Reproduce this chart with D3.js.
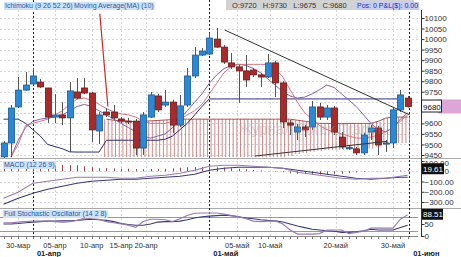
<!DOCTYPE html>
<html>
<head>
<meta charset="utf-8">
<script src="https://cdn.jsdelivr.net/npm/d3@7"></script>
<style>
  body { margin: 0; background: #fff; }
  svg { display: block; font-family: "Liberation Sans", Arial, sans-serif; }
</style>
</head>
<body>
<div id="chart-container"></div>
<script>
// candles: open, high, low, close
var opens  = [9441,9507,9678,9758,9787,9796,9768,9630,9640,9626,9749,9768,9744,9564,9654,9654,9621,9611,9611,9483,9630,9730,9687,9701,9592,9687,9825,9924,9929,10000,9962,9887,9868,9849,9853,9830,9820,9887,9792,9602,9559,9583,9583,9678,9630,9673,9535,9483,9479,9460,9559,9578,9502,9507,9664,9720];
var highs  = [9516,9687,9820,9844,9863,9811,9768,9739,9701,9796,9815,9815,9749,9654,9673,9687,9630,9626,9621,9654,9749,9740,9758,9712,9735,9863,9962,9958,10029,10053,9972,9934,9878,9924,9863,9840,9929,9897,9800,9616,9597,9593,9706,9697,9687,9683,9559,9497,9488,9555,9593,9588,9521,9673,9758,9730];
var lows   = [9436,9440,9673,9754,9782,9768,9602,9602,9592,9464,9716,9739,9512,9502,9630,9616,9602,9597,9450,9450,9626,9654,9678,9554,9583,9678,9815,9919,9924,9958,9882,9858,9697,9773,9820,9773,9815,9725,9578,9545,9521,9535,9569,9616,9616,9545,9479,9474,9450,9450,9521,9450,9464,9483,9654,9675];
var closes = [9507,9673,9758,9782,9825,9773,9630,9640,9626,9754,9720,9744,9569,9640,9640,9626,9611,9607,9483,9640,9735,9664,9701,9592,9683,9825,9924,9943,10005,9962,9891,9868,9849,9806,9830,9820,9887,9792,9607,9592,9583,9569,9678,9630,9673,9559,9488,9485,9460,9545,9578,9498,9507,9664,9735,9680];

// indicator lines (price), null = not drawn
var tenkan = [null,9440,9520,9580,9610,9620,9625,9630,9640,9660,9680,9690,9680,9660,9640,9620,9600,9580,9560,9540,9530,9540,9550,9580,9620,9660,9700,9740,9790,9830,9860,9875,9880,9875,9860,9840,9810,9780,9750,9730,9720,9725,9740,9760,9782,9770,9740,9710,9680,9640,9600,9570,9560,9580,9620,9650];
var kijun  = [9620,9620,9620,9600,9570,9540,9500,9490,9480,9465,9464,9464,9464,9464,9520,9520,9520,9520,9520,9520,9520,9520,9525,9540,9570,9600,9640,9680,9716,9716,9716,9716,9716,9716,9716,9716,9716,9716,9716,9716,9716,9716,9716,9716,9716,9716,9716,9716,9716,9716,9716,9716,9716,9716,9716,null];
var ma10   = [null,9440,9500,9590,9600,9610,9620,9640,9660,9690,9715,9720,9710,9690,9670,9655,9645,9640,9630,9610,9600,9600,9600,9610,9620,9640,9660,9690,9740,9790,9840,9870,9880,9880,9880,9880,9880,9860,9820,9760,9700,9650,9620,9590,9570,9560,9550,9540,9530,9530,9535,9545,9560,9580,9610,9640];
var spanA  = [null,null,null,null,null,null,null,null,null,null,null,null,null,null,9620,9615,9612,9610,9608,9610,9612,9614,9616,9618,9620,9620,9620,9620,9620,9620,9620,9620,9620,9620,9620,9620,9620,9620,9620,9620,9615,9610,9605,9600,9600,9600,9600,9600,9600,9600,9600,9610,9625,9630,9630,9630];
var spanB  = [null,null,null,null,null,null,null,null,null,null,null,null,null,null,9440,9440,9440,9440,9440,9440,9440,9440,9440,9440,9440,9440,9440,9440,9440,9440,9440,9440,9440,9440,9440,9440,9440,9440,9440,9445,9455,9460,9465,9470,9474,9474,9474,9474,9474,9474,9480,9490,9500,9507,9507,9507];

// MACD panel
var macdLine = [-263,-234,-205,-160,-117,-107,-98,-88,-78,-68,-59,-59,-59,-59,-59,-64,-68,-68,-68,-59,-49,-44,-39,-29,-20,-5,10,30,49,54,59,59,59,54,49,44,39,34,29,10,-10,-20,-29,-39,-49,-59,-68,-73,-78,-73,-68,-68,-68,-59,-49,-39];
var macdSignal = [-322,-292,-263,-239,-215,-195,-176,-161,-146,-132,-117,-107,-98,-93,-88,-83,-78,-78,-78,-73,-68,-64,-59,-54,-49,-39,-29,-10,10,20,29,34,39,39,39,39,39,34,29,20,10,0,-10,-20,-29,-39,-49,-59,-68,-73,-78,-73,-68,-64,-59,-59];
var macdHist = [60,60,58,56,62,62,60,60,62,60,58,48,40,30,30,28,25,25,22,20,22,22,24,28,35,38,40,40,40,38,35,30,25,20,12,8,0,-5,-10,-20,-25,-28,-30,-32,-30,-28,-25,-18,-12,-6,-2,2,4,6,8,10];

// Full stochastic panel
var stochK = [55,55,58,60,62,62,62,60,58,60,65,75,72,70,60,55,50,45,36,60,70,70,68,60,72,85,95,96,96,96,92,85,80,72,62,60,62,63,50,25,8,8,8,10,25,25,25,10,15,20,33,33,33,33,70,88];
var stochD = [50,50,52,55,58,60,62,62,63,63,65,68,70,68,65,60,52,48,45,45,50,58,60,60,62,68,75,80,83,85,87,85,80,75,72,68,65,63,58,50,42,35,28,25,22,20,15,15,18,22,28,25,25,25,35,45];

var priceTicks = [10100,10050,10000,9950,9900,9850,9800,9750,9600,9550,9500,9450];
var macdTicks = [100,0,-100,-200,-300];
var stochTicks = [50,0];
var dayTicks = [{i:2,t:"30-мар"},{i:7,t:"05-апр"},{i:12,t:"10-апр"},{i:16,t:"15-апр"},{i:19.4,t:"20-апр"},{i:31.8,t:"05-май"},{i:36.3,t:"10-май"},{i:45.2,t:"20-май"},{i:53,t:"30-май"}];
var monthTicks = [{i:4,t:"01-апр"},{i:28,t:"01-май"},{i:55.2,t:"01-июн"}];
var ohlcText = "O:9720   H:9730   L:9675   C:9680";
var lastPrice = 9680, lastMacd = "19.61", lastStoch = "88.51";

var svgWidth = 461, svgHeight = 257;
var plotRight = 418, axisX = 421;
var svg = d3.select('#chart-container').append('svg')
    .attr('width', svgWidth).attr('height', svgHeight);

var x = d3.scaleLinear().domain([-0.48, 56.4]).range([0, plotRight]);
var yP = d3.scaleLinear().domain([9450, 10100]).range([155, 18]);
var yM = d3.scaleLinear().domain([-300, 100]).range([202, 161]);
var yS = d3.scaleLinear().domain([0, 100]).range([236, 212]);

var idx = d3.range(closes.length);

// clip paths for panels
var defs = svg.append("defs");
defs.append("clipPath").attr("id", "clipMain").append("rect").attr("x", 0).attr("y", 10).attr("width", plotRight).attr("height", 148);
defs.append("clipPath").attr("id", "clipMacd").append("rect").attr("x", 0).attr("y", 159).attr("width", plotRight).attr("height", 49);
defs.append("clipPath").attr("id", "clipStoch").append("rect").attr("x", 0).attr("y", 209).attr("width", plotRight).attr("height", 28);

// grid
var grid = svg.append("g").attr("stroke", "#d8d8d8").attr("stroke-dasharray", "2,2").attr("stroke-width", 1);
d3.range(9450, 10101, 50).forEach(function(v) {
    grid.append("line").attr("x1", 0).attr("x2", plotRight).attr("y1", Math.round(yP(v)) + 0.5).attr("y2", Math.round(yP(v)) + 0.5);
});
dayTicks.forEach(function(d) {
    grid.append("line").attr("x1", Math.round(x(d.i)) + 0.5).attr("x2", Math.round(x(d.i)) + 0.5).attr("y1", 10).attr("y2", 236);
});
[100, 0, -100, -200, -300].forEach(function(v) {
    grid.append("line").attr("x1", 0).attr("x2", plotRight).attr("y1", Math.round(yM(v)) + 0.5).attr("y2", Math.round(yM(v)) + 0.5);
});
[80, 20].forEach(function(v) {
    svg.append("line").attr("x1", 0).attr("x2", plotRight).attr("y1", Math.round(yS(v)) + 0.5).attr("y2", Math.round(yS(v)) + 0.5)
        .attr("stroke", "#999").attr("stroke-width", 1);
});

// panel separators
[158, 208].forEach(function(yy) {
    svg.append("line").attr("x1", 0).attr("x2", svgWidth).attr("y1", yy + 0.5).attr("y2", yy + 0.5).attr("stroke", "#aaa");
});
svg.append("line").attr("x1", 0).attr("x2", plotRight).attr("y1", 236.5).attr("y2", 236.5).attr("stroke", "#888");

// month dotted lines
monthTicks.forEach(function(d) {
    svg.append("line").attr("x1", Math.round(x(d.i)) + 0.5).attr("x2", Math.round(x(d.i)) + 0.5)
        .attr("y1", 0).attr("y2", 237).attr("stroke", "#222").attr("stroke-dasharray", "2,2");
});

// main panel
var main = svg.append("g").attr("clip-path", "url(#clipMain)");

// kumo cloud hatch
idx.forEach(function(i) {
    if (spanA[i] == null) return;
    [-1.8, 1.8].forEach(function(off) {
        main.append("line")
            .attr("x1", x(i) + off).attr("x2", x(i) + off)
            .attr("y1", yP(spanA[i])).attr("y2", yP(spanB[i]))
            .attr("stroke", "#c06262").attr("stroke-width", 1).attr("opacity", 0.75);
    });
});

function lineOf(arr, sc) {
    return d3.line().defined(function(i) { return arr[i] != null; })
        .x(function(i) { return x(i); }).y(function(i) { return sc(arr[i]); })(idx);
}
main.append("path").attr("d", lineOf(spanA, yP)).attr("fill", "none").attr("stroke", "#b05050").attr("stroke-width", 1);
main.append("path").attr("d", lineOf(kijun, yP)).attr("fill", "none").attr("stroke", "#2d2d7a").attr("stroke-width", 1);
main.append("path").attr("d", lineOf(tenkan, yP)).attr("fill", "none").attr("stroke", "#8262aa").attr("stroke-width", 1);
main.append("path").attr("d", lineOf(ma10, yP)).attr("fill", "none").attr("stroke", "#d87482").attr("stroke-width", 1);

// candles
var bw = 6;
main.selectAll(".wick").data(idx).enter().append("line")
    .attr("x1", function(i) { return Math.round(x(i)) + 0.5; })
    .attr("x2", function(i) { return Math.round(x(i)) + 0.5; })
    .attr("y1", function(i) { return yP(highs[i]); })
    .attr("y2", function(i) { return yP(lows[i]); })
    .attr("stroke", "#555");
main.selectAll(".body").data(idx).enter().append("rect")
    .attr("x", function(i) { return Math.round(x(i)) - bw / 2 + 0.5; })
    .attr("y", function(i) { return yP(Math.max(opens[i], closes[i])); })
    .attr("width", bw)
    .attr("height", function(i) { return Math.max(1, Math.abs(yP(opens[i]) - yP(closes[i]))); })
    .attr("fill", function(i) { return closes[i] >= opens[i] ? "#2a88d6" : "#a82a2a"; })
    .attr("stroke", function(i) { return closes[i] >= opens[i] ? "#1a5a96" : "#6e1a1a"; })
    .attr("stroke-width", 0.8);

// drawn trend lines
main.append("line").attr("x1", x(30.1)).attr("y1", yP(10043)).attr("x2", x(55.3)).attr("y2", yP(9640))
    .attr("stroke", "#333").attr("stroke-width", 1);
main.append("line").attr("x1", x(34.2)).attr("y1", yP(9445)).attr("x2", x(52.2)).attr("y2", yP(9515))
    .attr("stroke", "#333").attr("stroke-width", 1);
main.append("line").attr("x1", x(13.1)).attr("y1", yP(10120)).attr("x2", x(14.2)).attr("y2", yP(9680))
    .attr("stroke", "#d02828").attr("stroke-width", 1.2);

// watermark
svg.append("text").attr("x", 238).attr("y", 134).text("Журнал Forex Trader")
    .attr("font-size", 15).attr("fill", "#999").attr("opacity", 0.35);

// MACD panel
var mg = svg.append("g").attr("clip-path", "url(#clipMacd)");
mg.selectAll(".hist").data(idx).enter().append("line")
    .attr("x1", function(i) { return Math.round(x(i)) + 0.5; })
    .attr("x2", function(i) { return Math.round(x(i)) + 0.5; })
    .attr("y1", yM(0))
    .attr("y2", function(i) { return yM(macdHist[i]); })
    .attr("stroke", "#a04848");
mg.append("path").attr("d", lineOf(macdSignal, yM)).attr("fill", "none").attr("stroke", "#3a3a7a").attr("stroke-width", 1.1);
mg.append("path").attr("d", lineOf(macdLine, yM)).attr("fill", "none").attr("stroke", "#9a7ab0").attr("stroke-width", 1.1);

// stochastic panel
var sg = svg.append("g").attr("clip-path", "url(#clipStoch)");
sg.append("path").attr("d", lineOf(stochD, yS)).attr("fill", "none").attr("stroke", "#3a3a7a").attr("stroke-width", 1.1);
sg.append("path").attr("d", lineOf(stochK, yS)).attr("fill", "none").attr("stroke", "#9a7ab0").attr("stroke-width", 1.1);

// right axis
svg.append("line").attr("x1", axisX + 0.5).attr("x2", axisX + 0.5).attr("y1", 10).attr("y2", 237).attr("stroke", "#333");
var axP = svg.append("g").attr("transform", "translate(" + (axisX + 0.5) + ",0)")
    .call(d3.axisRight(yP).tickValues(priceTicks).tickSize(3).tickFormat(d3.format("d")));
var axM = svg.append("g").attr("transform", "translate(" + (axisX + 0.5) + ",0)")
    .call(d3.axisRight(yM).tickValues(macdTicks).tickSize(3).tickFormat(function(d) { return d === 0 ? "0" : d3.format(".2f")(d); }));
var axS = svg.append("g").attr("transform", "translate(" + (axisX + 0.5) + ",0)")
    .call(d3.axisRight(yS).tickValues(stochTicks).tickSize(3));
[axP, axM, axS].forEach(function(a) {
    a.select(".domain").remove();
    a.selectAll("text").attr("font-size", 8).attr("fill", "#333").attr("font-family", "Liberation Sans, Arial").attr("x", 3);
    a.selectAll("line").attr("stroke", "#333");
});
axM.selectAll(".tick").filter(function(d) { return d === 0; }).select("text").attr("x", 23);
axM.selectAll(".tick").filter(function(d) { return d === 100; }).select("text").attr("dy", "0.55em");

// value boxes
svg.append("rect").attr("x", 438).attr("y", yP(lastPrice) - 7).attr("width", 23).attr("height", 14).attr("fill", "#dca6d6");
svg.append("rect").attr("x", 421.5).attr("y", yP(lastPrice) - 6.5).attr("width", 20).attr("height", 12).attr("fill", "#fff").attr("stroke", "#222");
svg.append("text").attr("x", 423).attr("y", yP(lastPrice) + 3).text(lastPrice).attr("font-size", 8).attr("fill", "#111");
svg.append("rect").attr("x", 422).attr("y", yM(19.61) - 6).attr("width", 22).attr("height", 11).attr("fill", "#111");
svg.append("text").attr("x", 423).attr("y", yM(19.61) + 2.5).text(lastMacd).attr("font-size", 8).attr("fill", "#fff");
svg.append("rect").attr("x", 422).attr("y", yS(88.51) - 6).attr("width", 21).attr("height", 11).attr("fill", "#111");
svg.append("text").attr("x", 423).attr("y", yS(88.51) + 2.5).text(lastStoch).attr("font-size", 8).attr("fill", "#fff");

// date axis
svg.selectAll(".dtick").data(idx).enter().append("line")
    .attr("x1", function(i) { return Math.round(x(i)) + 0.5; })
    .attr("x2", function(i) { return Math.round(x(i)) + 0.5; })
    .attr("y1", 237).attr("y2", 239).attr("stroke", "#777");
svg.selectAll(".dlab").data(dayTicks).enter().append("text")
    .attr("x", function(d) { return x(d.i); }).attr("y", 247.5)
    .attr("text-anchor", "middle").attr("font-size", 7.5).attr("fill", "#333").text(function(d) { return d.t; });
svg.selectAll(".mlab").data(monthTicks).enter().append("text")
    .attr("x", function(d) { return x(d.i) + 4; }).attr("y", 256)
    .attr("font-size", 7.5).attr("font-weight", "bold").attr("fill", "#222").text(function(d) { return d.t; });

// header labels
function tag(xp, yp, txt, bg, fg) {
    var t = svg.append("text").attr("x", xp).attr("y", yp).text(txt).attr("font-size", 7).attr("fill", fg);
    var b = t.node().getBBox();
    svg.insert("rect", function() { return t.node(); })
        .attr("x", b.x - 1).attr("y", b.y).attr("width", b.width + 2).attr("height", b.height).attr("fill", bg);
}
svg.append("rect").attr("x", 226).attr("y", 0).attr("width", 188).attr("height", 10).attr("fill", "#d2d2d2");
svg.append("text").attr("x", 232).attr("y", 8).text(ohlcText).attr("font-size", 7.5).attr("fill", "#333").attr("xml:space", "preserve");
tag(357, 8, "Pos: 0 P&L($): 0.00", "#c6cdf0", "#2a2ab0");
tag(5, 8, "Ichimoku (9 26 52 26)", "#cfe2f6", "#2a5aa8");
tag(74, 8, "Moving Average(MA) (10)", "#cfe2f6", "#2a5aa8");
tag(4, 167, "MACD (12 26 9)", "#cfe2f6", "#2a5aa8");
tag(4, 216, "Full Stochastic Oscillator (14 2 8)", "#cfe2f6", "#2a5aa8");
</script>
</body>
</html>
